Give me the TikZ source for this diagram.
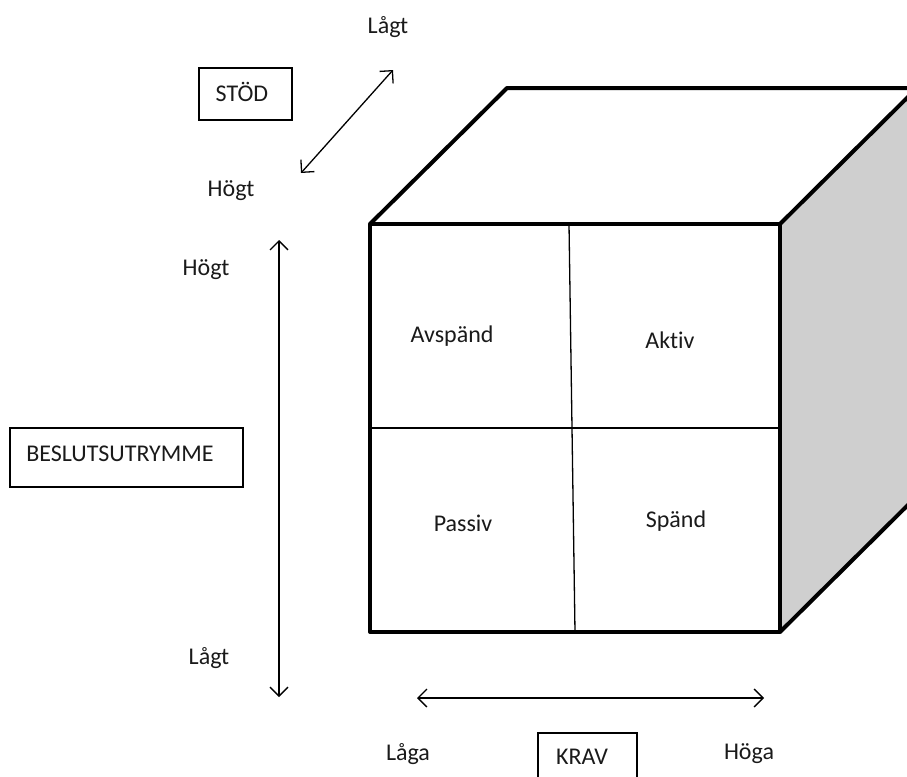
\documentclass[tikz,border=0pt]{standalone}
\usepackage{fontspec}
\setmainfont{Carlito}[Ligatures={NoCommon}]
\usetikzlibrary{arrows.meta}
\definecolor{sidegray}{HTML}{CFCFCF}
\definecolor{txt}{HTML}{1A1A1A}
\begin{document}
\begin{tikzpicture}[x=1pt,y=-1pt,
  lbl/.style={inner sep=0pt,text=txt,yshift=-2pt,font=\fontsize{24}{26}\selectfont},
  boxnode/.style={draw,line width=1.3pt,inner sep=0pt},
  cubeline/.style={line width=4pt,line join=round},
  thinline/.style={line width=1.3pt},
  dblarrow/.style={line width=1.3pt,{Straight Barb[length=9pt,width=18pt,line width=1.3pt]}-{Straight Barb[length=9pt,width=18pt,line width=1.3pt]}}]
\useasboundingbox (0,0) rectangle (907,776);
% cube
\fill[sidegray] (780,224) -- (917,88) -- (917,496) -- (780,632) -- cycle;
\draw[cubeline] (370,224) -- (507,88) -- (917,88) -- (780,224);
\draw[cubeline] (917,88) -- (917,496) -- (780,632);
\draw[thinline] (569,224) -- (575,632);
\draw[thinline] (370,428) -- (780,428);
\draw[cubeline] (370,224) rectangle (780,632);
% quadrant labels
\node[lbl] (avspand) at (452,334) {Avspänd};
\node[lbl] (aktiv) at (670,338) {Aktiv};
\node[lbl] (passiv) at (463,521) {Passiv};
\node[lbl] (spand) at (676,519) {Spänd};
% STÖD
\node[boxnode,minimum width=93pt,minimum height=52pt] (stodbox) at (245.5,94) {};
\node[lbl] (stod) at (242,90) {STÖD};
\node[lbl] (lagtS) at (388,25) {Lågt};
\node[lbl] (hogtS) at (231,189) {Högt};
\coordinate (sA) at (301,173);
\coordinate (sB) at (393,70);
\draw[dblarrow] (sA) -- (sB);
% BESLUTSUTRYMME
\node[boxnode,minimum width=233pt,minimum height=59pt] (besbox) at (126.5,457.5) {};
\node[lbl] (bes) at (120,452) {BESLUTSUTRYMME};
\node[lbl] (hogtB) at (206,268) {Högt};
\node[lbl] (lagtB) at (209,656) {Lågt};
\coordinate (bA) at (279,240);
\coordinate (bB) at (279,697);
\draw[dblarrow] (bA) -- (bB);
% KRAV
\node[boxnode,minimum width=99pt,minimum height=60pt] (kravbox) at (587.5,763) {};
\node[lbl] (krav) at (582,755) {KRAV};
\node[lbl] (laga) at (408,752) {Låga};
\node[lbl] (hoga) at (749,752) {Höga};
\coordinate (kA) at (417,698);
\coordinate (kB) at (764,698);
\draw[dblarrow] (kA) -- (kB);
\end{tikzpicture}
\end{document}
